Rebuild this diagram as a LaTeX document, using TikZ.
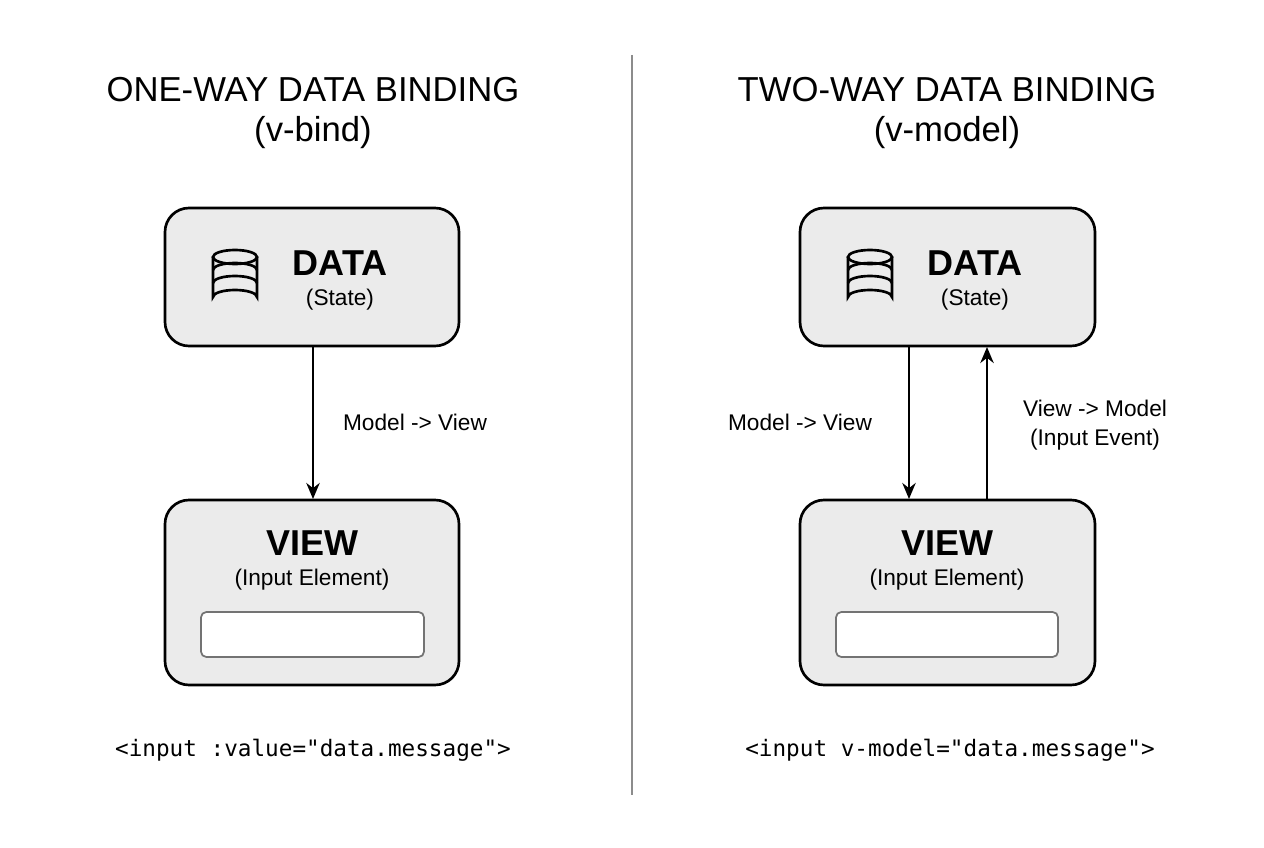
\documentclass[tikz,border=0pt]{standalone}
\usetikzlibrary{arrows.meta}
\usepackage{fontspec}
\setmainfont{Liberation Sans}
\setmonofont{DejaVu Sans Mono}
\begin{document}
\begin{tikzpicture}[x=0.75pt,y=-0.75pt,
  box/.style={draw=black,line width=2pt,fill=black!8,rounded corners=18pt},
  inp/.style={draw=black!55,line width=1.3pt,fill=white,rounded corners=4pt},
  title/.style={font=\fontsize{26}{30}\selectfont},
  big/.style={font=\fontsize{27}{30}\selectfont\bfseries},
  sub/.style={font=\fontsize{17}{20}\selectfont},
  lbl/.style={font=\fontsize{17}{20}\selectfont},
  code/.style={font=\fontsize{17}{20}\selectfont\ttfamily},
  arr/.style={line width=2pt,-{Stealth[length=12pt,width=10pt]}}]
\useasboundingbox (0,0) rectangle (1264,848);
\fill[white] (0,0) rectangle (1264,848);
\draw[black!45,line width=1pt] (632,55) -- (632,795);
\newcommand{\dbicon}[2]{%
 \begin{scope}[shift={(#1,#2)},line width=2pt]
  \draw (-22,-20) -- (-22,20) arc[start angle=180,end angle=360,x radius=22,y radius=7] -- (22,-20);
  \draw (0,-20) ellipse[x radius=22,y radius=7];
  \draw (-22,-7) arc[start angle=180,end angle=360,x radius=22,y radius=7];
  \draw (-22,6) arc[start angle=180,end angle=360,x radius=22,y radius=7];
 \end{scope}}
% left
\node[title] (t1) at (313,90) {ONE-WAY DATA BINDING};
\node[title] (s1) at (313,133) {(v-bind)};
\draw[box] (165,208) rectangle (459,346);
\coordinate (d1b) at (313,346);
\dbicon{235}{277}
\node[big] (d1) at (340,263) {DATA};
\node[sub] (d1s) at (340,300) {(State)};
\draw[box] (165,500) rectangle (459,685);
\coordinate (v1t) at (313,499);
\node[big] (v1) at (312,543) {VIEW};
\node[sub] (v1s) at (312,580) {(Input Element)};
\draw[inp] (201,612) rectangle (424,657);
\draw[arr] (d1b) -- (v1t);
\node[lbl] (l1) at (415,422) {Model -> View};
\node[code] (c1) at (313,750) {<input :value="data.message">};
% right
\node[title] (t2) at (947,90) {TWO-WAY DATA BINDING};
\node[title] (s2) at (947,133) {(v-model)};
\draw[box] (800,208) rectangle (1095,346);
\dbicon{870}{277}
\node[big] (d2) at (975,263) {DATA};
\node[sub] (d2s) at (975,300) {(State)};
\draw[box] (800,500) rectangle (1095,685);
\node[big] (v2) at (947,543) {VIEW};
\node[sub] (v2s) at (947,580) {(Input Element)};
\draw[inp] (836,612) rectangle (1058,657);
\coordinate (a) at (909,346); \coordinate (b) at (909,499);
\coordinate (c) at (987,500); \coordinate (d) at (987,347);
\draw[arr] (a) -- (b);
\draw[arr] (c) -- (d);
\node[lbl] (l2) at (800,422) {Model -> View};
\node[lbl] (l3) at (1095,408) {View -> Model};
\node[lbl] (l4) at (1095,440) {(Input Event)};
\node[code] (c2) at (950,750) {<input v-model="data.message">};
\end{tikzpicture}
\end{document}
